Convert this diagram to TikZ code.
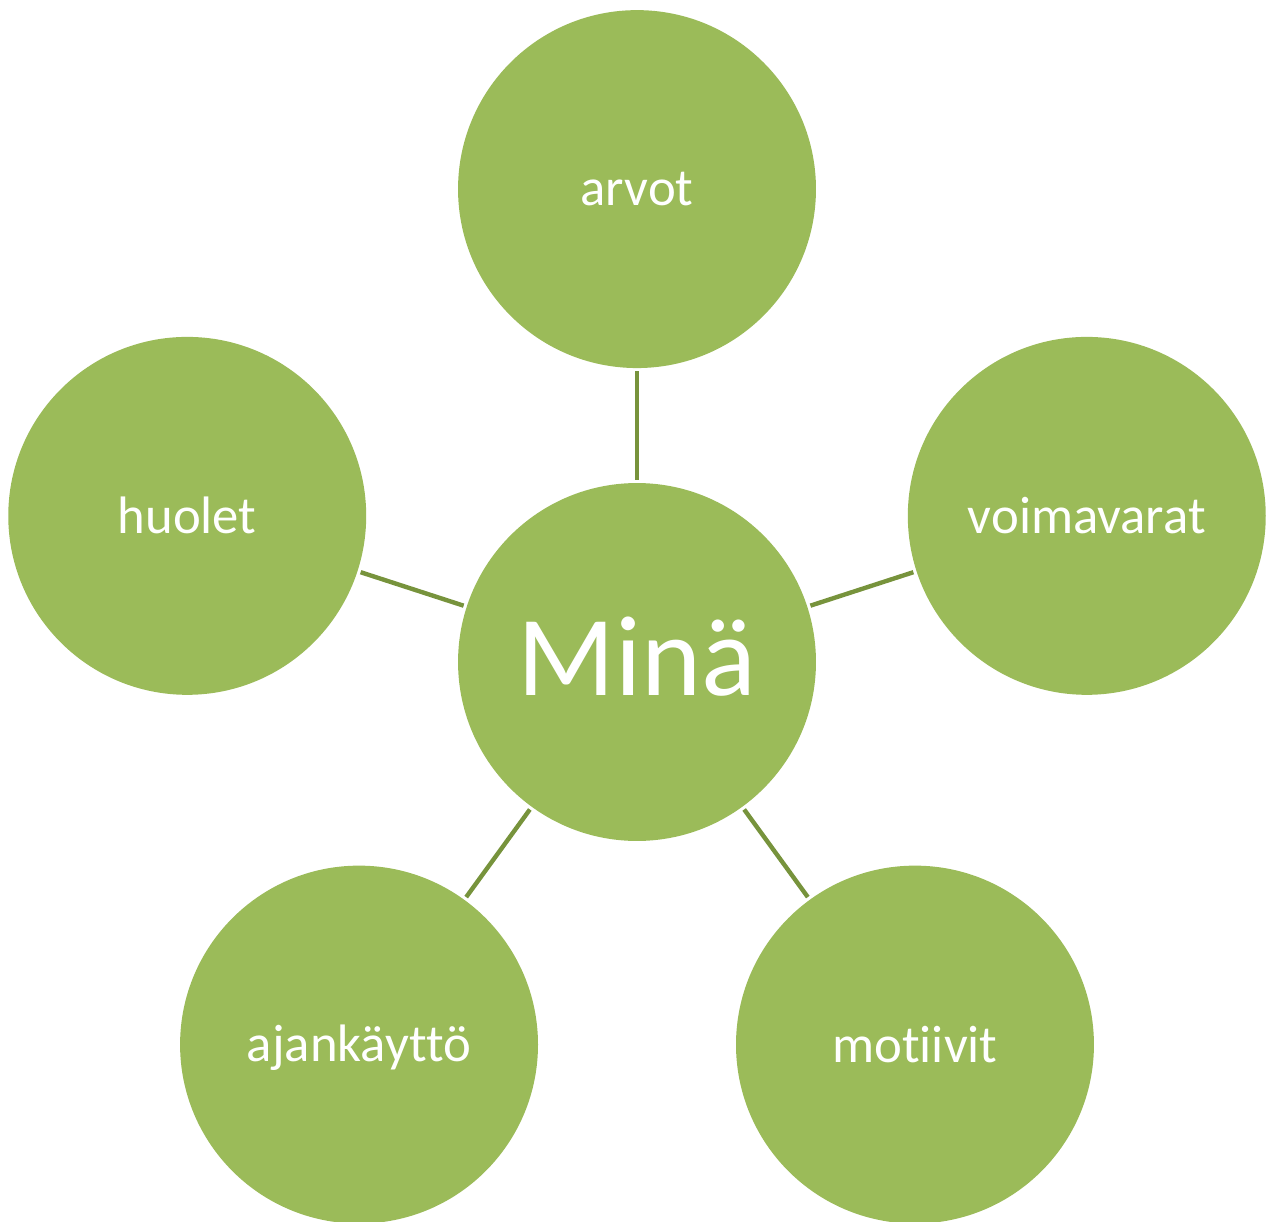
\documentclass[tikz,border=0pt]{standalone}
\usepackage{fontspec}
\setmainfont[Ligatures={NoCommon}]{Carlito}
\usetikzlibrary{calc}
\definecolor{leafgreen}{HTML}{9BBB59}
\definecolor{stemgreen}{HTML}{77933C}

\begin{document}
\begin{tikzpicture}[x=0.02cm,y=-0.02cm,
  bubble/.style={circle,fill=leafgreen,minimum size=7.16cm,inner sep=0pt,
    text=white,font=\fontsize{30}{36}\selectfont},
  spoke/.style={stemgreen,line width=2.5pt,shorten <=0.06cm,shorten >=0.06cm}]
\useasboundingbox (0,0) rectangle (1266,1222);
\node[bubble,font=\fontsize{65}{70}\selectfont] (mina) at (637,662)
  {\raisebox{3pt}[\height][\depth]{Minä}};
\foreach \name/\ang/\txt in {arvot/90/arvot,voimavarat/18/voimavarat,
    motiivit/-54/motiivit,ajankaytto/-126/\raisebox{-2pt}[\height][\depth]{ajankäyttö},
    huolet/162/huolet}{
  \node[bubble] (\name) at ($(mina)+(\ang:9.46cm)$) {\txt};
  \draw[spoke] (mina) -- (\name);
}
\end{tikzpicture}
\end{document}
